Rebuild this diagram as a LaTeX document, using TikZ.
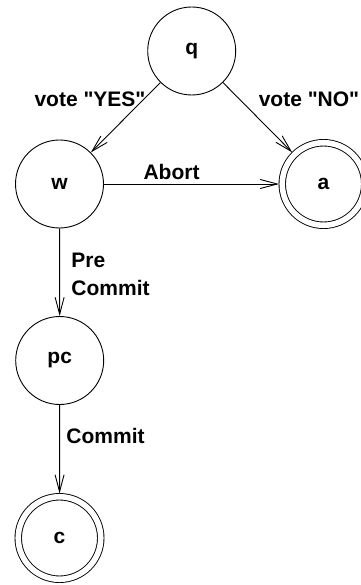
\documentclass[tikz,border=0pt]{standalone}
\usepackage{fontspec}
\newfontfamily\lab{Liberation Sans}
\usetikzlibrary{arrows.meta}
\begin{document}
\begin{tikzpicture}[x=1pt,y=-1pt,
  line width=0.9pt,
  >={Straight Barb[length=17pt,width=9pt,line width=0.9pt]},
  txt/.style={font=\lab\bfseries\fontsize{21}{28}\selectfont, inner sep=0pt},
  state/.style={circle, draw, minimum size=88pt, inner sep=0pt, txt},
  accept/.style={circle, draw, minimum size=82.5pt, inner sep=0pt, txt,
    double, double distance=5.6pt, outer sep=3.25pt},
  lbl/.style={txt}
]
\useasboundingbox (0,0) rectangle (360,585);

% states
\node[state]  (q)  at (191.7,51)  {q};
\node[state]  (w)  at (59.5,184)  {w};
\node[accept] (a)  at (323.5,184) {a};
\node[state]  (pc) at (59.7,360.5){pc};
\node[accept] (c)  at (59.5,538)  {c};

% transitions
\draw[->] (q) -- (w);
\draw[->] (q) -- (a);
\draw[->] (w) -- (a);
\draw[->] (w) -- (pc);
\draw[->] (pc) -- (c);

% transition labels
\node[lbl, anchor=base] (lyes) at (90,107) {vote \symbol{34}YES\symbol{34}};
\node[lbl, anchor=base] (lno) at (309,107) {vote \symbol{34}NO\symbol{34}};
\node[lbl, anchor=base] (labort) at (171.5,180) {Abort};
\node[lbl, anchor=west, align=left] (lpre) at (71,274) {Pre\\Commit};
\node[lbl, anchor=base west] (lcommit) at (66,443) {Commit};
\end{tikzpicture}
\end{document}
